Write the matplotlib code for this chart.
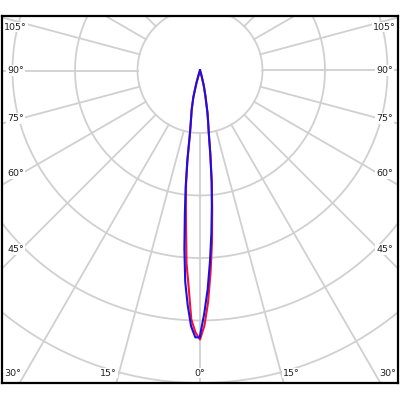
import numpy as np
import matplotlib
matplotlib.use("Agg")
import matplotlib.pyplot as plt

# polar angle from nadir (deg) and luminous intensity (cd) for the two C-planes
angles = [0, 1, 2, 3, 4, 5, 6, 7, 8, 9, 10, 12, 14, 16, 18, 20]
blue_left = [8540, 8540, 8190, 7520, 6780, 5730, 4640, 3780, 2910, 2080, 1700, 1280, 880, 420, 120, 0]
blue_right = [8480, 7780, 7010, 6110, 5220, 4350, 3550, 2720, 2020, 1660, 1380, 830, 500, 200, 50, 0]
red_left = [8610, 8380, 7970, 6940, 6180, 5120, 4320, 3650, 2880, 2080, 1700, 1280, 880, 420, 120, 0]
red_right = [8610, 8160, 7420, 6460, 5500, 4480, 3620, 2720, 2020, 1660, 1380, 830, 500, 200, 50, 0]

rings = [2000, 4000, 6000, 8000, 10000]
spokes = np.arange(0, 360, 15)
label_angles = [0, 15, 30, 45, 60, 75, 90, 105]

grid_col = "#d0d0d0"
px = 32.0  # cd per pixel

fig = plt.figure(figsize=(4, 4), dpi=100)
ax = fig.add_axes([0.005, 0.0425, 0.99, 0.9175])
ax.set_xlim(-198 * px, 198 * px)
ax.set_ylim(-10000, 54.5 * px)
ax.set_aspect("equal")
ax.set_xticks([])
ax.set_yticks([])
for s in ax.spines.values():
    s.set_linewidth(1.6)
    s.set_color("black")

# grid: rings and spokes (spokes start at first ring)
t = np.linspace(0, 2 * np.pi, 400)
for r in rings:
    ax.plot(r * np.cos(t), r * np.sin(t), color=grid_col, lw=1.3, zorder=1)
for a in spokes:
    th = np.radians(a)
    ax.plot([-rings[0] * np.sin(th), -30000 * np.sin(th)],
            [-rings[0] * np.cos(th), -30000 * np.cos(th)],
            color=grid_col, lw=1.3, zorder=1)


def curve(left, right):
    a = np.radians(np.array(angles, dtype=float))
    L = np.array(left, dtype=float)
    R = np.array(right, dtype=float)
    x = np.concatenate([-(L * np.sin(a))[::-1], R * np.sin(a)])
    y = np.concatenate([-(L * np.cos(a))[::-1], -R * np.cos(a)])
    return x, y


xr, yr = curve(red_left, red_right)
xb, yb = curve(blue_left, blue_right)
ax.plot(xr, yr, color="#f5103a", lw=1.5, zorder=3)
ax.plot(xb, yb, color="#1a10e0", lw=1.5, zorder=4)

# angle labels along the frame
half_w = 179 * px
bot_d = 310 * px
for a in label_angles:
    th = np.radians(a)
    for side in (-1, 1):
        if a == 0 and side == 1:
            continue
        sx, cy = np.sin(th), -np.cos(th)
        if cy < 0 and sx * bot_d / -cy <= half_w:
            x = side * sx * bot_d / -cy
            y = -302.5 * px
            ha = "center" if a == 0 else ("right" if side < 0 else "left")
        else:
            y = min(half_w * cy / sx, 43.5 * px)
            x = side * 184.5 * px
            ha = "center"
        ax.text(x, y, f"{a}°", ha=ha, va="center", fontsize=6.8, color="#222222",
                bbox=dict(facecolor="white", edgecolor="none", pad=0.6), zorder=2)

fig.savefig("out.png", dpi=100)
